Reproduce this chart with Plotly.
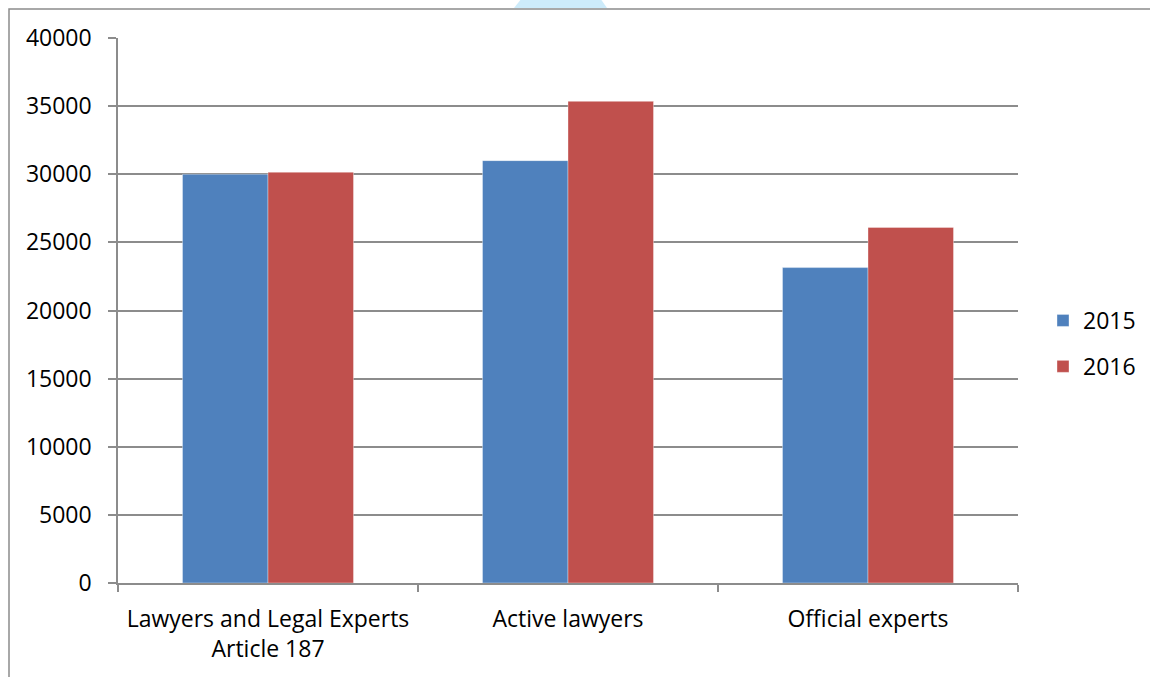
import plotly.graph_objects as go

categories = ["Lawyers and Legal Experts<br>Article 187", "Active lawyers", "Official experts"]
series_names = ["2015", "2016"]
values_2015 = [30000, 31000, 23150]
values_2016 = [30150, 35350, 26100]
y_ticks = [0, 5000, 10000, 15000, 20000, 25000, 30000, 35000, 40000]

W, H = 1150, 677
# plot area in screen pixels
L, R, T, B = 118, 1018, 38, 583

def px(x):
    return (x - L) / (R - L)

def py(y):
    return (B - y) / (B - T)

colors = ["#4F81BD", "#C0504D"]
font = "Open Sans"
fs = 23

fig = go.Figure()
for name, vals, c in zip(series_names, [values_2015, values_2016], colors):
    fig.add_trace(go.Bar(
        x=categories, y=vals, name=name, marker_color=c,
        marker_line_width=0.6, marker_line_color="rgba(255,255,255,0.6)",
        legendgroup=name,
    ))

grid = "#8C8C8C"
fig.update_layout(
    width=W, height=H,
    margin=dict(l=L, r=W - R, t=T, b=H - B, pad=0, autoexpand=False),
    paper_bgcolor="white", plot_bgcolor="white",
    barmode="group", bargap=0.43, bargroupgap=0,
    font=dict(family=font, size=fs, color="black"),
    showlegend=True,
    legend=dict(x=px(1043), y=py(299), xanchor="left", yanchor="top",
                font=dict(size=fs), tracegroupgap=13, itemwidth=30,
                bgcolor="rgba(0,0,0,0)"),
    xaxis=dict(showline=True, linecolor=grid, linewidth=1.5,
               ticks="outside", ticklen=7, tickcolor=grid, tickwidth=1.5,
               tickson="boundaries", showgrid=False, ticklabelstandoff=15,
               tickfont=dict(size=fs, family=font)),
    yaxis=dict(range=[0, 40000], tickvals=y_ticks, tickformat="d",
               showline=True, linecolor=grid, linewidth=1.5,
               ticks="outside", ticklen=8, tickcolor=grid, tickwidth=1.5,
               showgrid=True, gridcolor=grid, gridwidth=1.5,
               zeroline=False, ticklabelstandoff=12,
               tickfont=dict(size=fs, family=font)),
    shapes=[
        dict(type="path", xref="paper", yref="paper",
             path=f"M {px(514)},{py(8)} L {px(522)},{py(-2)} L {px(600)},{py(-2)} L {px(607)},{py(8)} Z",
             fillcolor="#CDEBFA", line=dict(width=0), layer="below"),
        dict(type="rect", xref="paper", yref="paper",
             x0=px(9), x1=px(1170), y0=py(700), y1=py(9),
             line=dict(color="#8C8C8C", width=1.5), fillcolor="rgba(0,0,0,0)"),
    ],
)

fig.write_html("out.html", config={"displayModeBar": False},
               post_script="document.body.style.margin='0';document.body.style.overflow='hidden';")
